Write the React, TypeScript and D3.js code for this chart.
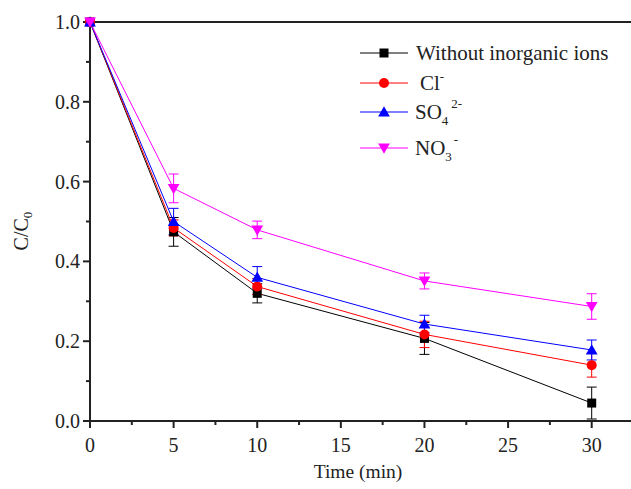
import React from "react";
import * as d3 from "d3";

const times = [0, 5, 10, 20, 30];
const seriesNames = ["Without inorganic ions", "Cl-", "SO42-", "NO3-"];
const blackVals = [1.0, 0.474, 0.32, 0.207, 0.045];
const blackErr = [0, 0.036, 0.024, 0.04, 0.04];
const redVals = [1.0, 0.484, 0.337, 0.217, 0.14];
const redErr = [0, 0.02, 0.02, 0.033, 0.03];
const blueVals = [1.0, 0.5, 0.36, 0.243, 0.178];
const blueErr = [0, 0.033, 0.027, 0.022, 0.025];
const magentaVals = [1.0, 0.583, 0.479, 0.351, 0.287];
const magentaErr = [0, 0.036, 0.022, 0.02, 0.032];
const xTicks = [0, 5, 10, 15, 20, 25, 30];
const yTicks = [0.0, 0.2, 0.4, 0.6, 0.8, 1.0];

const colors = ["#000000", "#ff0000", "#0000ff", "#ff00ff"];
const shapes = ["square", "circle", "triangle", "down"];

const W = 631, H = 489;
const L = 90, R = 631, T = 22, B = 421;
const FONT = "Liberation Serif, Times New Roman, DejaVu Serif, serif";

function Marker({ shape, x, y, color }: { shape: string; x: number; y: number; color: string }) {
  if (shape === "square") return <rect x={x - 4.5} y={y - 4.5} width={9} height={9} fill={color} />;
  if (shape === "circle") return <circle cx={x} cy={y} r={5} fill={color} />;
  const sym = d3.symbol().type(d3.symbolTriangle).size(60)();
  return <path d={sym || ""} transform={`translate(${x},${y + (shape === "down" ? -1 : 1)}) rotate(${shape === "down" ? 180 : 0})`} fill={color} />;
}

export default function App() {
  const x = d3.scaleLinear().domain([0, 32.35]).range([L, R]);
  const y = d3.scaleLinear().domain([0, 1]).range([B, T]);
  const all = [
    { vals: blackVals, err: blackErr },
    { vals: redVals, err: redErr },
    { vals: blueVals, err: blueErr },
    { vals: magentaVals, err: magentaErr },
  ];
  const line = d3.line<number>().x((_, i) => x(times[i])).y((d) => y(d));
  const minorX = d3.range(2.5, 32.4, 5);
  const minorY = d3.range(0.1, 1.0, 0.2);
  const legendY = [53, 83, 112, 148];
  const ts = { fontFamily: FONT } as React.CSSProperties;

  return (
    <div style={{ position: "absolute", left: 0, top: 0 }}>
      <svg width={W} height={H} style={{ display: "block", background: "#fff", fontFamily: FONT }}>
        {/* frame */}
        <line x1={L} y1={T} x2={R} y2={T} stroke="#222" strokeWidth={2} />
        <line x1={L} y1={T} x2={L} y2={B} stroke="#222" strokeWidth={2} />
        <line x1={L - 1} y1={B} x2={R} y2={B} stroke="#222" strokeWidth={2} />
        {xTicks.map((t) => (
          <g key={"xt" + t}>
            <line x1={x(t)} x2={x(t)} y1={B} y2={B + 7} stroke="#222" strokeWidth={2} />
            <text x={x(t)} y={452} fontSize={20} textAnchor="middle" fill="#222" style={ts}>{t}</text>
          </g>
        ))}
        {minorX.map((t) => (
          <line key={"mx" + t} x1={x(t)} x2={x(t)} y1={B} y2={B + 4} stroke="#222" strokeWidth={2} />
        ))}
        {yTicks.map((t) => (
          <g key={"yt" + t}>
            <line x1={L - 7} x2={L} y1={y(t)} y2={y(t)} stroke="#222" strokeWidth={2} />
            <text x={80} y={y(t) + 7} fontSize={20} textAnchor="end" fill="#222" style={ts}>{t.toFixed(1)}</text>
          </g>
        ))}
        {minorY.map((t) => (
          <line key={"my" + t} x1={L - 4} x2={L} y1={y(t)} y2={y(t)} stroke="#222" strokeWidth={2} />
        ))}
        <text x={358} y={478} fontSize={19.5} textAnchor="middle" fill="#222" style={ts}>Time (min)</text>
        <text transform="translate(28,231) rotate(-90)" fontSize={20} textAnchor="middle" fill="#222" style={ts}>
          C/C<tspan fontSize={13} dy={4}>0</tspan>
        </text>
        {/* series */}
        {all.map((s, si) => (
          <g key={"s" + si}>
            <path d={line(s.vals) || ""} fill="none" stroke={colors[si]} strokeWidth={1} />
            {s.vals.map((v, i) =>
              s.err[i] > 0 ? (
                <g key={"e" + i} stroke={colors[si]} strokeWidth={1}>
                  <line x1={x(times[i])} x2={x(times[i])} y1={y(v - s.err[i])} y2={y(v + s.err[i])} />
                  <line x1={x(times[i]) - 5} x2={x(times[i]) + 5} y1={y(v - s.err[i])} y2={y(v - s.err[i])} />
                  <line x1={x(times[i]) - 5} x2={x(times[i]) + 5} y1={y(v + s.err[i])} y2={y(v + s.err[i])} />
                </g>
              ) : null
            )}
          </g>
        ))}
        {all.map((s, si) => (
          <g key={"m" + si}>
            {s.vals.map((v, i) => (
              <Marker key={i} shape={shapes[si]} x={x(times[i])} y={y(v)} color={colors[si]} />
            ))}
          </g>
        ))}
        {/* legend */}
        {seriesNames.map((n, i) => (
          <g key={"lg" + i}>
            <line x1={360} x2={408} y1={legendY[i]} y2={legendY[i]} stroke={colors[i]} strokeWidth={1} />
            <Marker shape={shapes[i]} x={384} y={legendY[i]} color={colors[i]} />
          </g>
        ))}
        <text x={416} y={legendY[0] + 7} fontSize={21} fill="#222" style={ts}>{seriesNames[0]}</text>
        <text x={420} y={legendY[1] + 7} fontSize={21} fill="#222" style={ts}>Cl<tspan fontSize={13} dy={-9}>-</tspan></text>
        <text x={415} y={legendY[2] + 7} fontSize={21} fill="#222" style={ts}>
          SO<tspan fontSize={13} dy={6}>4</tspan><tspan fontSize={13} dy={-17} dx={3}>2-</tspan>
        </text>
        <text x={415} y={legendY[3] + 7} fontSize={21} fill="#222" style={ts}>
          NO<tspan fontSize={13} dy={6}>3</tspan><tspan fontSize={13} dy={-17} dx={2}>-</tspan>
        </text>
      </svg>
    </div>
  );
}
